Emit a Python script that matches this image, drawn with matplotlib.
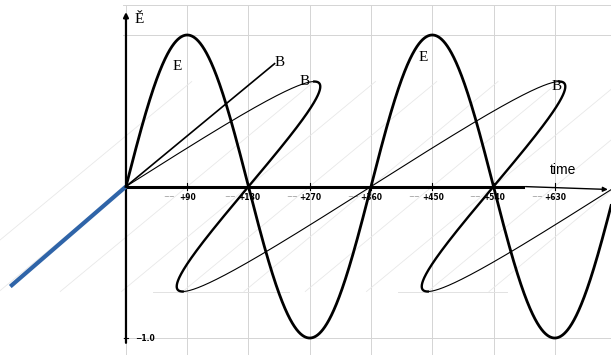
import numpy as np
import matplotlib.pyplot as plt

# time axis (degrees) and field amplitudes
t_end = 720
tick_deg = [90, 180, 270, 360, 450, 540, 630]
tick_txt = ['+90', '+180', '+270', '+360', '+450', '+540', '+630']
e_amp = 1.0
b_amp = 1.0
# oblique direction of the B axis, in (degrees, E units) per unit of B
b_dir = (186.6, 0.693)
b_axis_len = 1.17
blue_end = (-170, -0.66)

t = np.linspace(0, t_end, 3000)
E = e_amp * np.sin(np.radians(t))
B = b_amp * np.sin(np.radians(t))
bx = t + B * b_dir[0]
by = B * b_dir[1]

fig = plt.figure(figsize=(6.11, 3.55), dpi=100)
ax = fig.add_axes([0, 0, 1, 1])
ax.set_xlim(-185.1, 712.6)
ax.set_ylim(-1.112, 1.231)
ax.axis('off')

# rectangular grid
grid_c = '#d4d4d4'
for d in [0] + tick_deg:
    ax.plot([d, d], [-1.2, 1.2], color=grid_c, lw=0.7, zorder=0)
for yv in [1.0, -1.0, 1.2]:
    ax.plot([-5, t_end], [yv, yv], color=grid_c, lw=0.7, zorder=0)
ax.plot([40, 240], [-b_amp * b_dir[1]] * 2, color='#e2e2e2', lw=0.7, zorder=0)
ax.plot([400, 560], [-b_amp * b_dir[1]] * 2, color='#e2e2e2', lw=0.7, zorder=0)

# faint oblique grid of the B plane
for d in range(-90, 800, 90):
    ax.plot([d - b_dir[0], d + b_dir[0]], [-b_dir[1], b_dir[1]],
            color='#e8e8e8', lw=0.6, zorder=0)

# axes
ax.annotate('', xy=(0, 1.17), xytext=(0, -1.05),
            arrowprops=dict(arrowstyle='-|>', color='black', lw=1.6,
                            mutation_scale=7))
ax.plot([0, 583], [0, 0], color='black', lw=2.2, zorder=2)
ax.annotate('', xy=(712, -0.02), xytext=(583, 0),
            arrowprops=dict(arrowstyle='-|>', color='black', lw=1.0,
                            mutation_scale=7))
ax.plot([0, b_axis_len * b_dir[0]], [0, b_axis_len * b_dir[1]],
        color='black', lw=1.2, zorder=3)
ax.plot([0, blue_end[0]], [0, blue_end[1]], color='#2f64a8', lw=3,
        solid_capstyle='butt', zorder=3)

# E wave
ax.plot(t, E, color='black', lw=2.0, zorder=4)

# B wave, thicker where it runs back
cos_t = np.cos(np.radians(t))
thin = np.where(cos_t < 0, np.nan, by)
thick = np.where(cos_t >= 0, np.nan, by)
ax.plot(bx, thin, color='black', lw=0.8, zorder=4)
ax.plot(bx, thick, color='black', lw=1.7, zorder=4)

# tick marks and labels
for d, s in zip(tick_deg, tick_txt):
    ax.plot([d, d], [-0.02, 0.02], color='black', lw=0.8, zorder=3)
    ax.text(d - 18, -0.07, '~~', fontsize=5, color='#777777',
            ha='right', va='center')
    ax.text(d + 1, -0.07, s, fontsize=5.5, fontweight='bold',
            ha='center', va='center')
ax.plot([-3, 3], [-1.0, -1.0], color='black', lw=0.8)
ax.text(14, -1.0, '\u22121.0', fontsize=5.5, fontweight='bold',
        ha='left', va='center')

serif = 'Liberation Serif'
ax.text(12, 1.10, '\u011a', fontsize=11, ha='left', va='center', family=serif)
ax.text(76, 0.795, 'E', fontsize=11, ha='center', va='center', family=serif)
ax.text(436, 0.85, 'E', fontsize=11, ha='center', va='center', family=serif)
ax.text(225, 0.82, 'B', fontsize=11, ha='center', va='center', family=serif)
ax.text(263, 0.69, 'B', fontsize=11, ha='center', va='center', family=serif)
ax.text(632, 0.66, 'B', fontsize=11, ha='center', va='center', family=serif)
ax.text(642, 0.11, 'time', fontsize=10, ha='center', va='center',
        family='Liberation Sans')

fig.savefig('out.png', dpi=100)
